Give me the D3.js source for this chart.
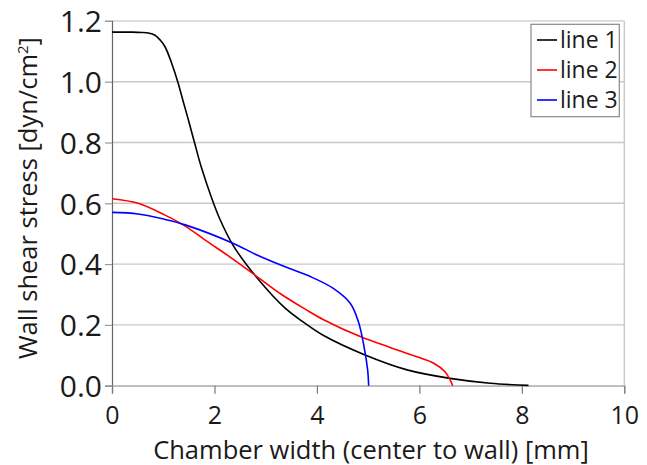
<!DOCTYPE html>
<html><head><meta charset="utf-8">
<script src="https://cdn.jsdelivr.net/npm/d3@7"></script>
<style>
html,body{margin:0;padding:0;background:#fff;}
svg{display:block;font-family:"Open Sans",sans-serif;}
</style></head>
<body><svg id="c" width="647" height="465"></svg>
<script>
// ---- data ----
const seriesNames = ["line 1", "line 2", "line 3"];
const seriesColors = ["#000000", "#ff0000", "#0000ff"];
const line1X = [0, 0.4, 0.58, 0.71, 0.84, 0.94, 1.035, 1.166, 1.283, 1.39, 1.49, 1.61, 1.75, 1.95, 2.1, 2.37, 2.83, 3.38, 3.77, 4.13, 4.94, 5.76, 6.6, 7.38, 8.13];
const line1Y = [1.163, 1.163, 1.162, 1.160, 1.153, 1.137, 1.115, 1.06, 1.0, 0.935, 0.875, 0.80, 0.715, 0.615, 0.55, 0.46, 0.355, 0.255, 0.205, 0.165, 0.101, 0.052, 0.024, 0.008, 0.001];
const line2X = [0, 0.51, 1.035, 1.43, 1.82, 2.34, 2.83, 3.31, 3.77, 4.13, 4.88, 5.43, 5.95, 6.28, 6.5, 6.6, 6.65];
const line2Y = [0.615, 0.600, 0.561, 0.525, 0.479, 0.419, 0.359, 0.300, 0.252, 0.217, 0.159, 0.126, 0.095, 0.074, 0.046, 0.019, 0.0];
const line3X = [0, 0.51, 1.035, 1.43, 2.37, 2.83, 3.38, 3.87, 4.32, 4.65, 4.81, 4.92, 4.99, 5.01];
const line3Y = [0.570, 0.565, 0.547, 0.529, 0.468, 0.43, 0.391, 0.359, 0.32, 0.271, 0.21, 0.128, 0.052, 0.0];
const xTicks = [0, 2, 4, 6, 8, 10];
const yTicks = [0.0, 0.2, 0.4, 0.6, 0.8, 1.0, 1.2];
const xTitle = "Chamber width (center to wall) [mm]";

// ---- layout ----
const svg = d3.select("#c");
const L = 112, R = 624.3, T = 20.9, B = 385.7;
const x = d3.scaleLinear().domain([0, 10]).range([L, R]);
const y = d3.scaleLinear().domain([0, 1.2]).range([B, T]);

// grid
svg.append("g").selectAll("line").data(yTicks).join("line")
  .attr("x1", L).attr("x2", R).attr("y1", d => y(d)).attr("y2", d => y(d))
  .attr("stroke", "#c8c8c8").attr("stroke-width", 1.4);
// frame right / top
svg.append("line").attr("x1", R).attr("x2", R).attr("y1", T).attr("y2", B)
  .attr("stroke", "#c8c8c8").attr("stroke-width", 1.4);
svg.append("line").attr("x1", L).attr("x2", R).attr("y1", T).attr("y2", T)
  .attr("stroke", "#dcdcdc").attr("stroke-width", 1.4);

// y axis
const yAxis = d3.axisLeft(y).tickValues(yTicks).tickFormat(d3.format(".1f")).tickSize(7).tickPadding(3);
const gy = svg.append("g").attr("transform", `translate(${L},0)`).call(yAxis);
gy.select(".domain").attr("stroke", "#666").attr("stroke-width", 1.2);
gy.selectAll(".tick line").attr("stroke", "#999").attr("stroke-width", 1.2);
gy.selectAll(".tick text").attr("font-size", 30).attr("fill", "#1a1a1a")
  .attr("font-family", "'Open Sans',sans-serif").attr("dy", "0.36em");

// x axis
const xAxis = d3.axisBottom(x).tickValues(xTicks).tickFormat(d3.format("d")).tickSize(8).tickPadding(13);
const gx = svg.append("g").attr("transform", `translate(0,${B})`).call(xAxis);
gx.select(".domain").attr("stroke", "#bbb").attr("stroke-width", 1.4);
gx.selectAll(".tick line").attr("stroke", "#777").attr("stroke-width", 1.2);
gx.selectAll(".tick text").attr("font-size", 25).attr("fill", "#1a1a1a")
  .attr("font-family", "'Open Sans',sans-serif");

// titles
svg.append("text").attr("x", 371).attr("y", 459).attr("text-anchor", "middle")
  .attr("font-size", 25.5).attr("fill", "#1a1a1a").text(xTitle);
const yt = svg.append("text").attr("transform", "translate(37,198) rotate(-90)")
  .attr("text-anchor", "middle").attr("font-size", 25.5).attr("fill", "#1a1a1a");
yt.append("tspan").text("Wall shear stress [dyn/cm");
yt.append("tspan").attr("dy", -9).attr("font-size", 15).text("2");
yt.append("tspan").attr("dy", 9).text("]");

// lines
const series = [
  line1X.map((v, i) => [v, line1Y[i]]),
  line2X.map((v, i) => [v, line2Y[i]]),
  line3X.map((v, i) => [v, line3Y[i]])
];
const lineGen = d3.line().x(d => x(d[0])).y(d => y(d[1])).curve(d3.curveCatmullRom.alpha(0.5));
svg.append("g").selectAll("path").data(series).join("path")
  .attr("d", lineGen).attr("fill", "none")
  .attr("stroke", (d, i) => seriesColors[i]).attr("stroke-width", 1.6);

// legend
const lg = svg.append("g");
lg.append("rect").attr("x", 531).attr("y", 24.3).attr("width", 88.3).attr("height", 92.4)
  .attr("fill", "#fff").attr("stroke", "#888").attr("stroke-width", 1.2);
seriesNames.forEach((n, i) => {
  const cy = 40 + i * 30;
  lg.append("line").attr("x1", 537).attr("x2", 557).attr("y1", cy).attr("y2", cy)
    .attr("stroke", seriesColors[i]).attr("stroke-width", 1.6);
  lg.append("text").attr("x", 560).attr("y", cy).attr("dy", "0.36em")
    .attr("font-size", 23).attr("fill", "#1a1a1a").text(n);
});
</script></body></html>
